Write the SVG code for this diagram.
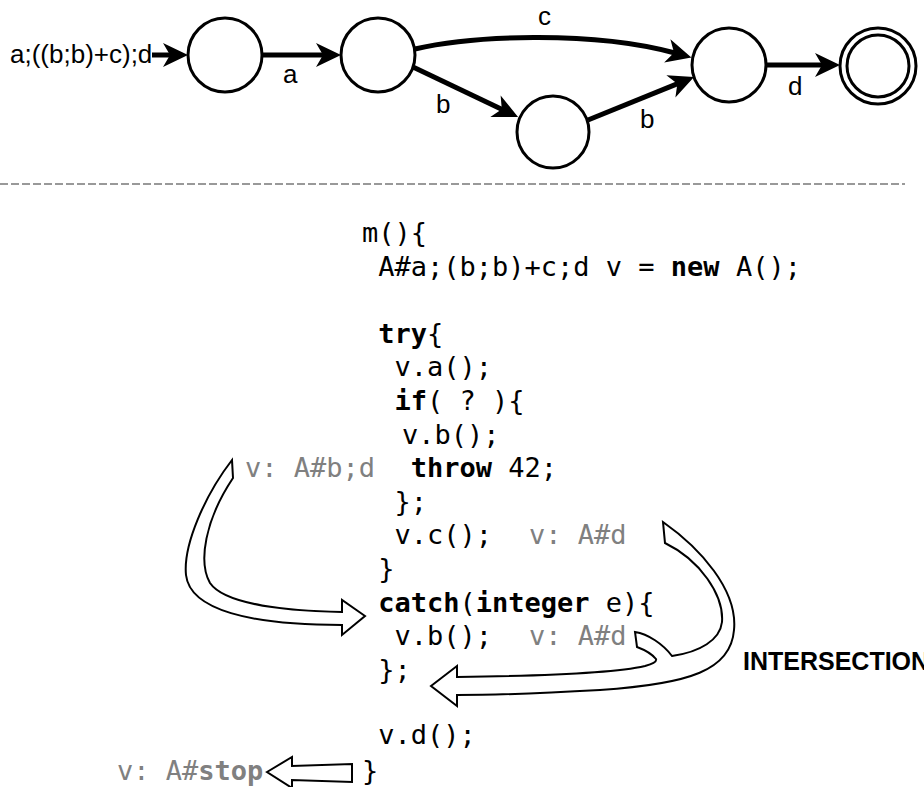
<svg xmlns="http://www.w3.org/2000/svg" width="924" height="787" viewBox="0 0 924 787">
  <style>
    .state { fill: #fff; stroke: #000; stroke-width: 3; }
    .edge { fill: none; stroke: #000; stroke-width: 5; marker-end: url(#head); }
    .lbl { font-family: "Liberation Sans", Arial, sans-serif; font-size: 26px; fill: #000; }
    .code { font-family: "DejaVu Sans Mono", "Liberation Mono", monospace; font-size: 27px; fill: #000; white-space: pre; }
    .note { fill: #808080; }
    .kw { font-weight: bold; }
    .flow { fill: #fff; stroke: #000; stroke-width: 2; stroke-linejoin: miter; }
    .big { font-family: "Liberation Sans", Arial, sans-serif; font-size: 25px; font-weight: bold; fill: #000; }
  </style>
  <defs>
    <marker id="head" markerUnits="userSpaceOnUse" markerWidth="30" markerHeight="30" refX="8" refY="0" viewBox="0 -15 30 30" orient="auto" overflow="visible">
      <path d="M0,-12 L25,0 L0,12 L7,0 Z" fill="#000"/>
    </marker>
  </defs>

  <rect width="924" height="787" fill="#fff"/>

  <!-- automaton -->
  <text class="lbl" x="10" y="63">a;((b;b)+c);d</text>

  <g id="s0"><circle class="state" cx="225" cy="55" r="37"/></g>
  <g id="s1"><circle class="state" cx="378" cy="55" r="37"/></g>
  <g id="s2"><circle class="state" cx="553" cy="132" r="36"/></g>
  <g id="s3"><circle class="state" cx="729" cy="65" r="37"/></g>
  <g id="s4">
    <circle class="state" cx="878" cy="66" r="38"/>
    <circle class="state" cx="878" cy="66" r="31"/>
  </g>

  <g id="edges">
    <path class="edge" d="M152,55 L171,55"/>
    <path class="edge" d="M262,55 L324,55"/>
    <path class="edge" d="M413,67 L502.7,109.7"/>
    <path class="edge" d="M415,49 C470,36 590,30 675,53"/>
    <path class="edge" d="M588,120 L678.3,83.4"/>
    <path class="edge" d="M766,65 L823,65"/>
    <text class="lbl" x="283" y="83">a</text>
    <text class="lbl" x="436" y="113">b</text>
    <text class="lbl" x="538" y="25">c</text>
    <text class="lbl" x="640" y="128">b</text>
    <text class="lbl" x="788" y="95">d</text>
  </g>

  <line x1="0" y1="184" x2="905" y2="184" stroke="#999" stroke-width="2" stroke-dasharray="8 3"/>

  <!-- program text -->
  <g id="code" class="code" xml:space="preserve">
    <text x="362" y="242">m(){</text>
    <text x="378.25" y="275.6">A#a;(b;b)+c;d v = <tspan class="kw">new</tspan> A();</text>
    <text x="378.25" y="342.8"><tspan class="kw">try</tspan>{</text>
    <text x="394.5" y="376.4">v.a();</text>
    <text x="394.5" y="410"><tspan class="kw">if</tspan>( ? ){</text>
    <text x="402" y="443.6">v.b();</text>
    <text x="410.75" y="477.2"><tspan class="kw">throw</tspan> 42;</text>
    <text x="394.5" y="510.8">};</text>
    <text x="394.5" y="544.4">v.c();</text>
    <text x="378.25" y="578">}</text>
    <text x="378.25" y="611.6"><tspan class="kw">catch</tspan>(<tspan class="kw">integer</tspan> e){</text>
    <text x="394.5" y="645.2">v.b();</text>
    <text x="378.25" y="678.8">};</text>
    <text x="378.25" y="744">v.d();</text>
    <text x="362" y="779.6">}</text>
  </g>

  <g id="types" class="code note" xml:space="preserve">
    <text class="note" x="245" y="477.2">v: A#b;d</text>
    <text class="note" x="529" y="544.4">v: A#d</text>
    <text class="note" x="529" y="645.2">v: A#d</text>
    <text class="note" x="117" y="779.6">v: A#<tspan class="kw">stop</tspan></text>
  </g>

  <!-- typestate flow arrows -->
  <g id="flows">
    <path class="flow" d="M365,616 L342,600 L342,612 C290,611 225,605 210,583 C198,562 205,520 233,478 L232,460 C205,495 183,545 186,575 C190,610 250,625 342,625 L342,635 Z"/>
    <path class="flow" d="M431,686 L457,666 L457,677 C540,676 615,673 645,666 C652,664 657,662 656,659 C652,654 645,650 637,647 L635,632 C648,634 663,644 672,656 C700,652 720,640 722,622 C724,595 700,560 665,543 L663,522 C700,548 738,590 734,630 C731,670 690,684 600,690 C530,694 490,695 457,695 L457,706 Z"/>
    <path class="flow" d="M267,772 L292,757 L292,766 L352,764 L352,782 L292,780 L292,788 Z"/>
  </g>

  <text class="big" x="743" y="670">INTERSECTION</text>
</svg>
